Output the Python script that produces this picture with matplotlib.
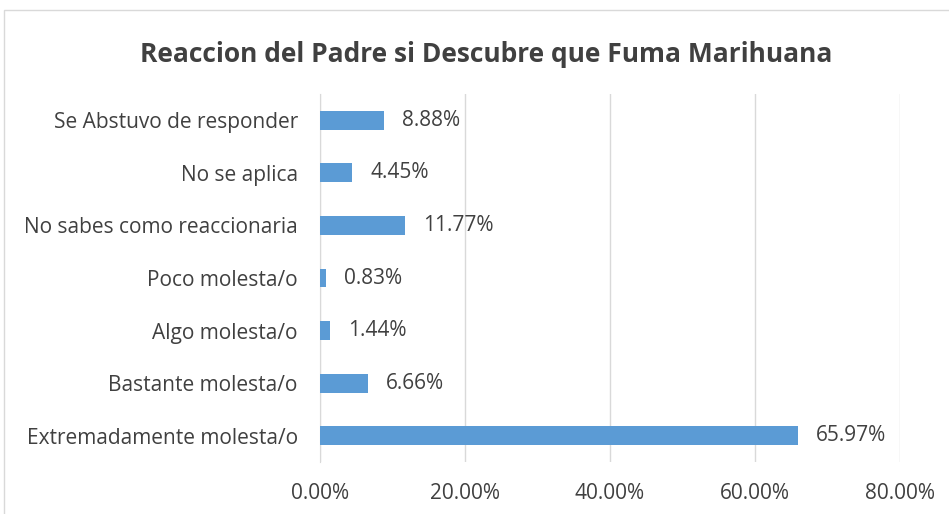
import matplotlib.pyplot as plt
from matplotlib.patches import Rectangle

categories = ["Extremadamente molesta/o", "Bastante molesta/o", "Algo molesta/o",
              "Poco molesta/o", "No sabes como reaccionaria", "No se aplica",
              "Se Abstuvo de responder"]
values = [65.97, 6.66, 1.44, 0.83, 11.77, 4.45, 8.88]
xticks = [0, 20, 40, 60, 80]

plt.rcParams["font.family"] = ["Open Sans", "DejaVu Sans"]
text_color = "#404040"

fig = plt.figure(figsize=(9.49, 5.14), dpi=100)
ax = fig.add_axes([320 / 949, 1 - 462 / 514, 580 / 949, 368 / 514])

y = range(len(categories))
ax.barh(y, values, height=0.36, color="#5B9BD5", zorder=3)

for yi, v in zip(y, values):
    ax.annotate(f"{v:.2f}%", (v, yi), xytext=(13, 0), textcoords="offset points",
                va="center", ha="left", fontsize=15, color=text_color)

ax.set_xlim(0, 80)
ax.set_ylim(-0.5, len(categories) - 0.5)
ax.set_xticks(xticks)
ax.set_xticklabels([f"{t:.2f}%" for t in xticks], fontsize=15, color=text_color)
ax.set_yticks(list(y))
ax.set_yticklabels(categories, fontsize=15, color=text_color)
ax.tick_params(length=0, pad=15, axis="x")
ax.tick_params(length=0, pad=16, axis="y")
ax.grid(axis="x", color="#d9d9d9", linewidth=1, zorder=0)
for side in ["top", "right", "bottom"]:
    ax.spines[side].set_visible(False)
ax.spines["left"].set_color("#d9d9d9")

fig.text(486 / 949, 1 - 54 / 514, "Reaccion del Padre si Descubre que Fuma Marihuana",
         ha="center", va="center", fontsize=19, fontweight="bold", color=text_color)

fig.patches.append(Rectangle((4 / 949, -0.05), 1.0, 1 - 10 / 514 + 0.05,
                             transform=fig.transFigure, fill=False,
                             edgecolor="#d9d9d9", linewidth=1))

fig.savefig("out.png", dpi=100)
